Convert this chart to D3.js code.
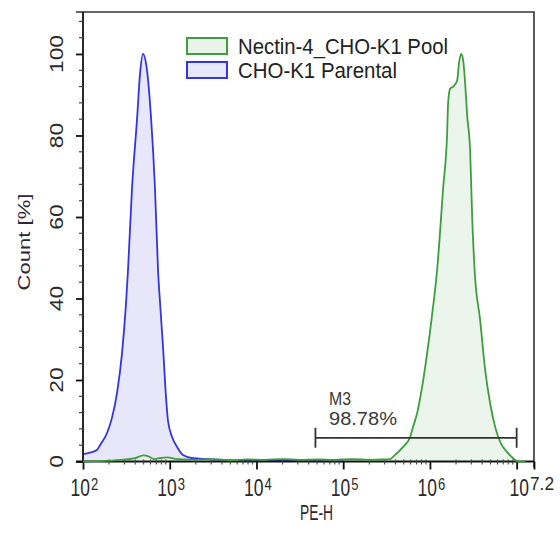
<!DOCTYPE html>
<html><head><meta charset="utf-8">
<script src="https://cdn.jsdelivr.net/npm/d3@7"></script>
<style>body{margin:0;background:#fff}text{font-family:"Liberation Sans",Arial,sans-serif}</style>
</head><body><svg id="c" width="560" height="535"></svg>
<script>
// ---- data ----
const seriesNames = ["Nectin-4_CHO-K1 Pool", "CHO-K1 Parental"];
// log10(PE-H) positions and Count [%]
const parentalLog = [2.0, 2.08, 2.16, 2.196, 2.277, 2.334, 2.392, 2.45, 2.496, 2.519, 2.565, 2.623, 2.657, 2.692, 2.738, 2.784, 2.83, 2.865, 2.888, 2.923, 2.957, 2.98, 3.027, 3.084, 3.153, 3.269, 3.43, 3.73, 4.0, 4.5, 5.0];
const parentalCount = [1.8, 2.2, 2.8, 4.0, 7.0, 10.7, 16.8, 26.6, 38.8, 47, 67, 84, 95, 100, 96, 84.5, 67, 47, 39, 28, 15.8, 10, 6, 3.6, 1.6, 0.8, 0.6, 0.3, 0.2, 0.1, 0.05];
const poolLog = [2.0, 2.3, 2.5, 2.6, 2.7, 2.76, 2.82, 2.9, 2.98, 3.05, 3.15, 3.3, 3.5, 3.7, 3.9, 4.1, 4.3, 4.5, 4.7, 4.9, 5.1, 5.3, 5.45, 5.541, 5.576, 5.691, 5.772, 5.806, 5.852, 5.91, 5.968, 6.025, 6.083, 6.152, 6.198, 6.21, 6.233, 6.268, 6.314, 6.337, 6.36, 6.383, 6.406, 6.429, 6.464, 6.487, 6.515, 6.579, 6.637, 6.694, 6.752, 6.81, 6.89, 6.96, 7.017, 7.1];
const poolCount = [0, 0.2, 0.5, 0.8, 1.5, 1.2, 0.6, 0.9, 1.0, 0.7, 0.5, 0.4, 0.6, 0.3, 0.5, 0.4, 0.6, 0.4, 0.5, 0.4, 0.6, 0.4, 0.5, 0.6, 1.2, 3.6, 6, 8.5, 11.8, 18.3, 26.6, 36, 47, 67, 80.4, 88, 91.5, 92, 93.5, 98, 100, 98.5, 92.8, 85, 76, 60, 47, 34.7, 22.4, 14.3, 8.5, 4.8, 2.3, 0.8, 0, 0];
const yTickValues = [0, 20, 40, 60, 80, 100];
const xTickExponents = [2, 3, 4, 5, 6];
const xEndLabel = ["10", "7.2"];
const gateName = "M3";
const gatePercent = "98.78%";
const gateRangeLog = [4.68, 7.0];
const gateLevel = 5.8;
const axisTitles = ["PE-H", "Count [%]"];

// ---- layout ----
const svg = d3.select("#c");
const X0 = 83, X1 = 534, Y0 = 461.5, Y1 = 12;
const x = d3.scaleLog().domain([1e2, Math.pow(10, 7.2)]).range([X0, X1]);
const y = d3.scaleLinear().domain([0, 110.3]).range([Y0, Y1]);

const blue = "#3434e4", green = "#3e9e3e";
const blueFill = "#e7e7f9", greenFill = "#e9f3e9";

function series(logs, counts) { return logs.map((l, i) => ({v: Math.pow(10, l), c: counts[i]})); }
const parental = series(parentalLog, parentalCount);
const pool = series(poolLog, poolCount);

const area = d3.area().x(d => x(d.v)).y0(y(0)).y1(d => y(d.c)).curve(d3.curveMonotoneX);
const line = d3.line().x(d => x(d.v)).y(d => y(d.c)).curve(d3.curveMonotoneX);

svg.append("path").datum(parental).attr("d", area).attr("fill", blueFill);
svg.append("path").datum(pool).attr("d", area).attr("fill", greenFill).attr("fill-opacity", 0.85);
svg.append("path").datum(parental).attr("d", line).attr("fill", "none").attr("stroke", blue).attr("stroke-width", 1.8);

// frame
svg.append("path").attr("d", `M${X0 - 7},${Y1}H${X1}V${Y0 + 6}`).attr("fill", "none").attr("stroke", "#333").attr("stroke-width", 1.6);

// y axis
const yAxis = d3.axisLeft(y).tickValues(yTickValues).tickSize(7).tickFormat("");
const gy = svg.append("g").attr("transform", `translate(${X0},0)`).call(yAxis);
const yMinor = d3.range(4, 110, 4).filter(v => v % 20 !== 0);
gy.selectAll(".minor").data(yMinor).enter().append("line").attr("class", "minor")
  .attr("x1", -4).attr("x2", 0).attr("y1", d => y(d)).attr("y2", d => y(d));
gy.select(".domain").attr("d", `M0,${Y1}V${Y0}`);
gy.selectAll("line, path").attr("stroke", "#111").attr("stroke-width", 1.8);
gy.selectAll("line.minor").attr("stroke-width", 1.2).attr("stroke", "#444");

// x axis
const majorVals = xTickExponents.map(e => Math.pow(10, e)).concat([1e7, Math.pow(10, 7.2)]);
const xAxis = d3.axisBottom(x).tickValues(majorVals).tickSize(8).tickFormat("");
const gx = svg.append("g").attr("transform", `translate(0,${Y0})`).call(xAxis);
gx.select(".domain").attr("d", `M${X0 - 7},0H${X1}`);
const xMinor = [];
for (let e = 2; e < 7.2; e++) for (let m = 2; m <= 9; m++) { const v = m * Math.pow(10, e); if (v < Math.pow(10, 7.2)) xMinor.push(v); }
gx.selectAll(".minor").data(xMinor).enter().append("line").attr("class", "minor")
  .attr("x1", d => x(d)).attr("x2", d => x(d)).attr("y1", -2).attr("y2", 3);
gx.selectAll("line, path").attr("stroke", "#111").attr("stroke-width", 1.8);
gx.selectAll("line.minor").attr("stroke-width", 1.1).attr("stroke", "#444");

// green outline drawn above the axis line
svg.append("path").datum(pool).attr("d", line).attr("fill", "none").attr("stroke", green).attr("stroke-width", 1.8);

// text helper: vertically stretched text
function stext(px, py, str, size, k, opts = {}) {
  const g = svg.append("g").attr("transform", `translate(${px},${py}) scale(1,${k})${opts.rot ? " rotate(-90)" : ""}`);
  const t = g.append("text").text(str).attr("font-size", size).attr("fill", opts.fill || "#2a2a2a")
    .attr("text-anchor", opts.anchor || "start");
  if (opts.len) t.attr("textLength", opts.len).attr("lengthAdjust", "spacingAndGlyphs");
  return t;
}

// y tick labels
yTickValues.forEach(v => stext(63, y(v), String(v), 17.5, 1.3, {rot: true, anchor: "middle"}));
// x tick labels
xTickExponents.forEach(e => {
  const cx = x(Math.pow(10, e));
  stext(cx + 7, 496, "10", 17.5, 1.33, {anchor: "end"});
  stext(cx + 8, 490, String(e), 13, 1.3, {anchor: "start"});
});
stext(X1 - 5, 496, xEndLabel[0], 17.5, 1.33, {anchor: "end"});
stext(X1 - 4, 490, xEndLabel[1], 14, 1.3, {anchor: "start", len: 24});

// axis titles
stext(300, 520, axisTitles[0], 17, 1.25, {fill: "#2d2538", len: 33});
stext(30, 242, axisTitles[1], 17, 1.3, {fill: "#2d2538", rot: true, anchor: "middle"});

// legend
const legendColors = [[green, greenFill], [blue, blueFill]];
seriesNames.forEach((n, i) => {
  const top = i === 0 ? 38 : 62;
  svg.append("rect").attr("x", 187).attr("y", top).attr("width", 40).attr("height", 16)
    .attr("fill", legendColors[i][1]).attr("stroke", legendColors[i][0]).attr("stroke-width", 2);
  stext(238, top + 15.5, n, 20, 1.1, {fill: "#222", len: i === 0 ? 210 : 159});
});

// gate marker
const gy0 = y(gateLevel);
const gx0 = x(Math.pow(10, gateRangeLog[0])), gx1 = x(Math.pow(10, gateRangeLog[1]));
svg.append("path").attr("d", `M${gx0},${gy0 - 10}V${gy0 + 10}M${gx0},${gy0}H${gx1}M${gx1},${gy0 - 10}V${gy0 + 10}`)
  .attr("fill", "none").attr("stroke", "#333").attr("stroke-width", 1.8);
stext(329, 405, gateName, 15.5, 1.15, {fill: "#3a3a3a", len: 22});
stext(329, 425, gatePercent, 15.5, 1.15, {fill: "#3a3a3a", len: 68});
</script></body></html>
